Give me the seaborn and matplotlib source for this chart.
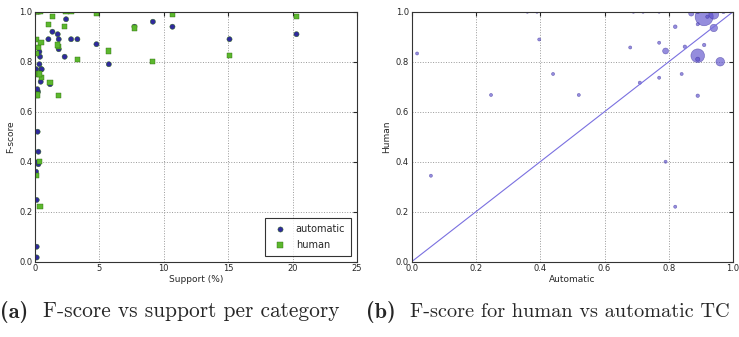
import numpy as np
import pandas as pd
import seaborn as sns
from matplotlib import pyplot as plt

# per category: support (%), automatic F-score, human F-score
support = [20.3, 15.1, 10.67, 9.15, 7.72, 5.73, 4.77, 3.29, 2.8, 2.41,
           2.3, 1.84, 1.84, 1.76, 1.35, 1.17, 1.04,
           0.13, 0.13, 0.13, 0.08, 0.26, 0.13, 0.26, 0.2, 0.23, 0.18,
           0.44, 0.47, 0.52, 0.08, 0.34, 0.39, 0.34]
automatic = [0.91, 0.89, 0.94, 0.96, 0.94, 0.79, 0.87, 0.89, 0.89, 0.97,
             0.82, 0.89, 0.85, 0.91, 0.92, 0.71, 0.89,
             0.017, 0.06, 0.247, 0.36, 0.39, 0.397, 0.44, 0.52, 0.68, 0.69,
             0.72, 0.77, 0.77, 0.77, 0.79, 0.82, 0.84]
human = [0.98, 0.824, 0.99, 0.80, 0.935, 0.843, 0.993, 0.81, 1.0, 1.0,
         0.94, 0.664, 0.86, 0.867, 0.98, 0.716, 0.95,
         0.833, 0.344, 0.667, 1.0, 1.0, 0.889, 0.751, 0.667, 0.857, 1.0,
         1.0, 0.876, 0.736, 1.0, 0.4, 0.22, 0.751]

cats = pd.DataFrame({"support": support, "automatic": automatic, "human": human})
long = cats.melt(id_vars="support", value_vars=["automatic", "human"],
                 var_name="system", value_name="fscore")

sns.set_style("white")
plt.rcParams.update({
    "font.family": "DejaVu Sans",
    "font.size": 6.5,
    "xtick.labelsize": 6,
    "ytick.labelsize": 6,
    "axes.edgecolor": "#333333",
    "axes.linewidth": 0.8,
    "xtick.direction": "in",
    "ytick.direction": "in",
    "xtick.top": True,
    "ytick.right": True,
    "xtick.major.size": 3,
    "ytick.major.size": 3,
    "xtick.major.pad": 2,
    "ytick.major.pad": 2,
})

fig = plt.figure(figsize=(7.39, 3.37), dpi=100)
ax1 = fig.add_axes([0.0474, 0.2234, 0.4357, 0.7418])
ax2 = fig.add_axes([0.557, 0.2234, 0.435, 0.7418])

# (a) F-score vs support
sns.scatterplot(data=long, x="support", y="fscore", hue="system", style="system",
                palette={"automatic": "#2f2a9c", "human": "#5cb82e"},
                markers={"automatic": "o", "human": "s"}, s=14,
                edgecolor="#2f6a10", linewidth=0.3, ax=ax1)
ax1.set_xlim(0, 25)
ax1.set_ylim(0, 1)
ax1.set_xticks(np.arange(0, 26, 5))
ax1.set_yticks(np.arange(0, 1.01, 0.2))
ax1.set_xlabel("Support (%)", labelpad=1)
ax1.set_ylabel("F-score", labelpad=3)
ax1.grid(True, linestyle=":", color="#999999", linewidth=0.7)
leg = ax1.legend(loc="lower right", fancybox=False, edgecolor="black",
                 fontsize=7, borderaxespad=0.6, handletextpad=0.6,
                 borderpad=0.6, labelspacing=0.6, markerscale=1.0)
leg.get_frame().set_linewidth(0.8)

# (b) human vs automatic, size by support
cats["weight"] = cats["support"] ** 2
sns.scatterplot(data=cats, x="automatic", y="human", size="weight",
                sizes=(5, 170), color="#5548c8", alpha=0.62,
                edgecolor="#3a2f9a", linewidth=0.4, legend=False, ax=ax2)
ax2.axline((0, 0), slope=1, color="#7a70e0", linewidth=0.8)
ax2.set_xlim(0, 1)
ax2.set_ylim(0, 1)
ax2.set_xticks(np.arange(0, 1.01, 0.2))
ax2.set_yticks(np.arange(0, 1.01, 0.2))
ax2.set_xlabel("Automatic", labelpad=1)
ax2.set_ylabel("Human", labelpad=3)
ax2.grid(True, linestyle=":", color="#999999", linewidth=0.7)

for a in (ax1, ax2):
    a.xaxis.set_major_formatter(plt.FormatStrFormatter("%g" if a is ax1 else "%.1f"))
    a.yaxis.set_major_formatter(plt.FormatStrFormatter("%.1f"))

# captions
fig.text(0.0, 0.075, "(a)", fontfamily="cmb10", fontsize=16, va="center")
fig.text(0.058, 0.075, "F-score vs support per category", fontfamily="cmr10",
         fontsize=15.4, va="center")
fig.text(0.495, 0.075, "(b)", fontfamily="cmb10", fontsize=16, va="center")
fig.text(0.555, 0.075, "F-score for human vs automatic TC", fontfamily="cmr10",
         fontsize=14.6, va="center")

fig.savefig("out.png", dpi=100)
